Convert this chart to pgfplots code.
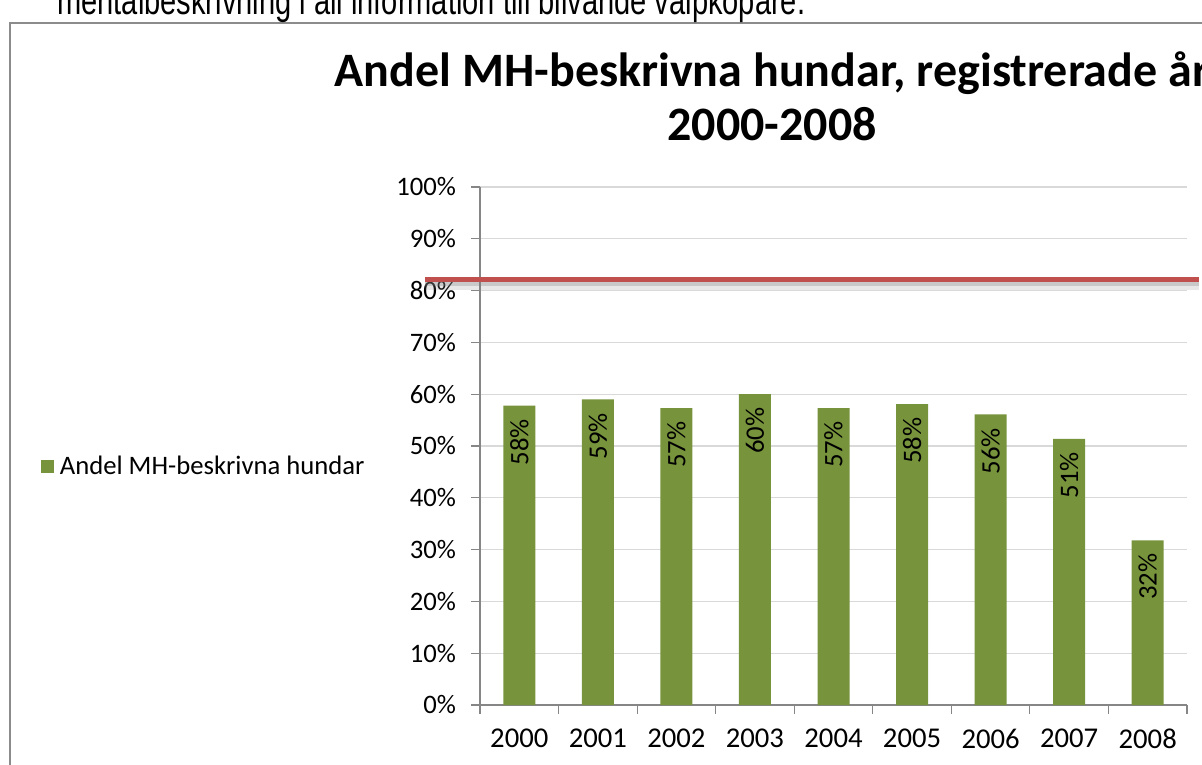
\documentclass[border=0pt]{standalone}
\usepackage{pgfplots}
\pgfplotsset{compat=1.18}
\usepackage{fontspec}
\setmainfont{Carlito}
\newfontfamily\arialfont{Liberation Sans}
\definecolor{bargreen}{HTML}{77933C}
\definecolor{gridgray}{HTML}{D9D9D9}
\definecolor{axisgray}{HTML}{868686}
\definecolor{linered}{HTML}{C0504D}
\definecolor{framegray}{HTML}{8C8C8C}
\begin{document}
\begin{tikzpicture}
\useasboundingbox (0pt,0pt) rectangle (901.5pt,-573pt);
\clip (0pt,0pt) rectangle (901.5pt,-573pt);
% frame
\draw[framegray, line width=1.5pt] (7.5pt,-580pt) -- (7.5pt,-17.25pt) -- (910pt,-17.25pt);
% clipped text above the chart
\node[anchor=base west, inner sep=0pt, font=\arialfont\fontsize{21.8}{26}\selectfont] at (42.75pt,-10.5pt) {\scalebox{1}[1.35]{mentalbeskrivning i all information till blivande valpköpare.}};
% title
\node[anchor=base, inner sep=0pt, font=\bfseries\fontsize{36}{40}\selectfont] at (579pt,-64.5pt) {Andel MH-beskrivna hundar, registrerade år};
\node[anchor=base, inner sep=0pt, font=\bfseries\fontsize{36}{40}\selectfont] at (579pt,-105pt) {2000-2008};
\begin{axis}[
  at={(360pt,-528.75pt)}, anchor=south west,
  scale only axis, width=530.25pt, height=388.5pt,
  xmin=-0.5, xmax=8.5, ymin=0, ymax=100,
  axis x line*=bottom, axis y line*=left,
  axis line style={axisgray, line width=0.9pt},
  xtick={-0.5,0.5,...,8.5},
  xticklabels={2000,2001,2002,2003,2004,2005,2006,2007,2008},
  x tick label as interval,
  ytick={0,10,...,100},
  yticklabels={0\%,10\%,20\%,30\%,40\%,50\%,60\%,70\%,80\%,90\%,100\%},
  tick align=outside, major tick length=6.5pt,
  tick style={axisgray, line width=0.8pt},
  ymajorgrids, grid style={gridgray, line width=0.9pt},
  ticklabel style={font=\fontsize{20}{24}\selectfont, text=black},
  yticklabel style={xshift=-8pt},
  xticklabel style={yshift=-8pt, font=\fontsize{21.5}{24}\selectfont},
  /pgf/number format/assume math mode=true,
  clip=false,
  legend style={at={(-0.621,0.461)}, anchor=west, draw=none, fill=none, inner sep=0pt,
    font=\fontsize{20}{24}\selectfont},
  legend image code/.code={\fill[#1] (0pt,-5pt) rectangle (9.5pt,4.5pt); \path (12pt,0pt);},
]
\addplot[ybar, bar width=24pt, fill=bargreen, draw=none,
  nodes near coords={\pgfmathprintnumber[fixed,precision=0,assume math mode=true]{\pgfplotspointmeta}\%},
  every node near coord/.append style={font=\fontsize{20}{24}\selectfont, text=black, yshift=-10pt, rotate=90, anchor=east, inner sep=0pt},
] coordinates {
(0,57.8) (1,59.0) (2,57.3) (3,60.0) (4,57.3) (5,58.1) (6,56.1) (7,51.4) (8,31.8)
};
\addlegendentry{Andel MH-beskrivna hundar}
\addplot[forget plot, gray, opacity=0.18, line width=6pt] coordinates {(-1.2,80.9) (8.65,80.9)};
\addplot[forget plot, gray, opacity=0.3, line width=3.5pt] coordinates {(-1.2,81.3) (8.65,81.3)};
\addplot[forget plot, linered, line width=3.75pt] coordinates {(-1.2,82.2) (8.65,82.2)};
\end{axis}
\end{tikzpicture}
\end{document}
